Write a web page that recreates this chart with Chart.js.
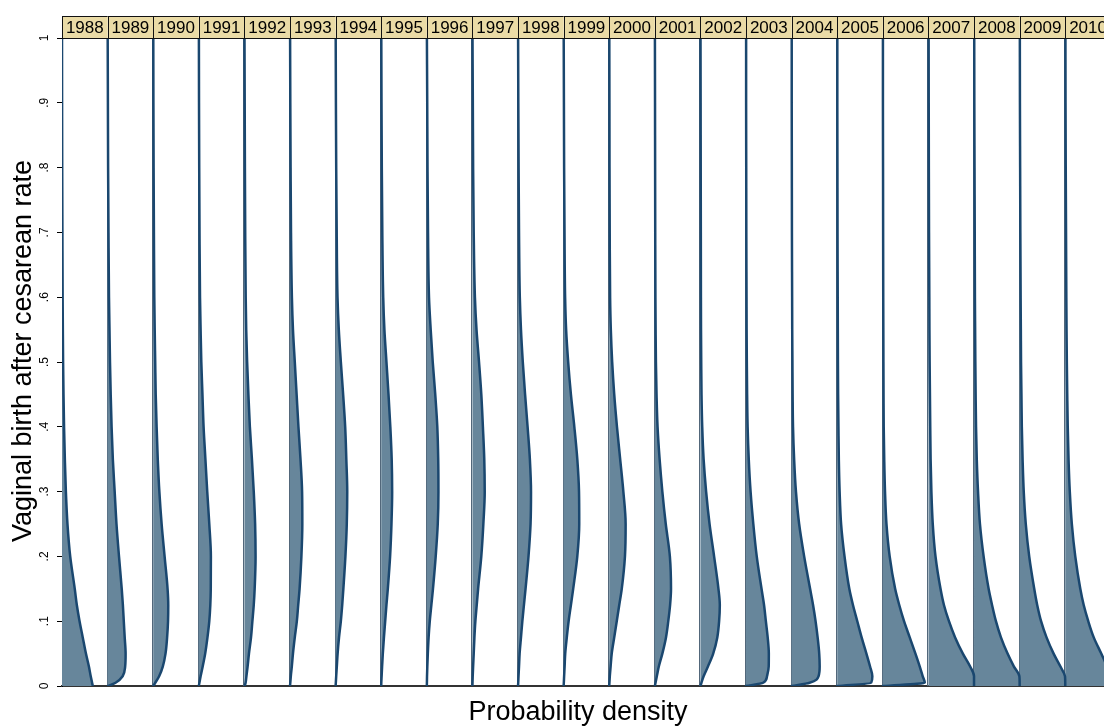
<!DOCTYPE html>
<html>
<head>
<meta charset="utf-8">
<script src="https://cdn.jsdelivr.net/npm/chart.js@4.4.1/dist/chart.umd.min.js"></script>
<style>
html, body { margin: 0; padding: 0; background: #fff; }
#wrap { width: 1104px; height: 727px; }
</style>
</head>
<body>
<div id="wrap"><canvas id="densityChart" width="1104" height="727"></canvas></div>
<script>
// VBAC rate distribution by year, drawn sideways (density on x, rate on y)
// values

const years = [1988, 1989, 1990, 1991, 1992, 1993, 1994, 1995, 1996, 1997, 1998, 1999,
               2000, 2001, 2002, 2003, 2004, 2005, 2006, 2007, 2008, 2009, 2010];

// rate at which each density was read
const rates = [0, 0.005, 0.015, 0.03, 0.05, 0.075, 0.1, 0.125, 0.15, 0.2, 0.25, 0.3,
               0.35, 0.4, 0.45, 0.5, 0.55, 0.6, 0.7, 0.8, 0.9, 1];

const rateTickValues = [0, 0.1, 0.2, 0.3, 0.4, 0.5, 0.6, 0.7, 0.8, 0.9, 1];
const rateTickLabels = ['0', '.1', '.2', '.3', '.4', '.5', '.6', '.7', '.8', '.9', '1'];

const xTitle = 'Probability density';
const yTitle = 'Vaginal birth after cesarean rate';

const dens1988 = [13.5, 13.2, 12.6, 11.8, 10.5, 9.1, 7.7, 6.5, 5.6, 3.6, 2.4, 1.7, 1.25, 0.9, 0.66, 0.48, 0.37, 0.28, 0.18, 0.09, 0.04, 0];
const dens1989 = [0.2, 3.5, 6.6, 7.7, 7.9, 7.5, 7.1, 6.7, 6.2, 5.0, 3.9, 3.1, 2.3, 1.75, 1.36, 1.05, 0.83, 0.61, 0.39, 0.22, 0.13, 0.04];
const dens1990 = [0, 0.9, 2.6, 4.2, 5.4, 6.1, 6.5, 6.6, 6.3, 5.0, 3.7, 2.7, 2.0, 1.5, 1.1, 0.88, 0.66, 0.48, 0.31, 0.18, 0.09, 0.04];
const dens1991 = [0, 0.26, 0.79, 1.7, 2.8, 3.8, 4.6, 5.05, 5.25, 5.3, 4.6, 3.7, 2.9, 2.1, 1.6, 1.1, 0.79, 0.53, 0.31, 0.18, 0.09, 0.04];
const dens1992 = [0.13, 0.53, 0.88, 1.4, 2.0, 2.9, 3.5, 4.1, 4.5, 4.9, 4.7, 4.1, 3.3, 2.4, 1.75, 1.2, 0.79, 0.57, 0.35, 0.22, 0.13, 0.04];
const dens1993 = [0, 0.13, 0.35, 0.79, 1.3, 2.1, 3.0, 3.6, 4.2, 5.0, 5.4, 5.3, 4.6, 3.7, 2.9, 2.1, 1.3, 0.83, 0.44, 0.26, 0.13, 0.04];
const dens1994 = [0, 0.09, 0.26, 0.53, 0.88, 1.5, 2.3, 2.9, 3.4, 4.3, 4.9, 5.1, 4.7, 4.2, 3.3, 2.3, 1.4, 0.83, 0.48, 0.26, 0.13, 0.04];
const dens1995 = [0, 0.04, 0.18, 0.39, 0.7, 1.2, 1.75, 2.3, 2.9, 3.9, 4.5, 4.8, 4.6, 4.0, 3.2, 2.3, 1.4, 0.88, 0.48, 0.26, 0.13, 0.04];
const dens1996 = [0, 0.04, 0.09, 0.22, 0.44, 0.79, 1.3, 2.0, 2.7, 3.9, 4.8, 5.1, 5.0, 4.6, 3.7, 2.6, 1.7, 0.96, 0.53, 0.31, 0.18, 0.04];
const dens1997 = [0, 0.04, 0.13, 0.31, 0.57, 0.88, 1.3, 1.9, 2.5, 3.9, 4.8, 5.4, 5.2, 4.6, 3.9, 2.9, 1.8, 1.1, 0.57, 0.31, 0.18, 0.04];
const dens1998 = [0, 0.09, 0.22, 0.44, 0.7, 1.3, 1.9, 2.6, 3.3, 4.6, 5.5, 5.7, 5.2, 4.2, 3.1, 2.1, 1.3, 0.79, 0.44, 0.26, 0.13, 0.04];
const dens1999 = [0, 0.09, 0.22, 0.44, 0.7, 1.4, 2.2, 3.2, 4.2, 6.0, 6.85, 6.75, 6.0, 4.7, 3.2, 2.0, 1.1, 0.66, 0.39, 0.22, 0.13, 0.04];
const dens2000 = [0, 0.09, 0.26, 0.61, 1.1, 2.2, 3.3, 4.4, 5.5, 6.9, 7.2, 6.2, 4.8, 3.4, 2.2, 1.3, 0.7, 0.39, 0.22, 0.13, 0.09, 0.04];
const dens2001 = [0, 0.31, 0.88, 1.75, 3.3, 4.9, 5.9, 6.7, 7.1, 6.6, 4.8, 3.3, 2.1, 1.2, 0.75, 0.48, 0.35, 0.26, 0.18, 0.13, 0.09, 0.04];
const dens2002 = [0, 0.44, 1.4, 3.3, 5.6, 7.4, 8.2, 8.5, 7.9, 6.0, 4.0, 2.5, 1.4, 0.79, 0.48, 0.35, 0.26, 0.22, 0.18, 0.13, 0.09, 0.04];
const dens2003 = [0, 7.5, 9.2, 9.95, 10.0, 9.5, 8.7, 7.9, 6.8, 4.7, 3.2, 2.0, 1.2, 0.7, 0.48, 0.35, 0.26, 0.22, 0.13, 0.09, 0.04, 0.04];
const dens2004 = [0, 7.9, 11.8, 12.3, 12.1, 11.4, 10.5, 9.4, 8.1, 5.5, 3.3, 1.9, 1.1, 0.61, 0.44, 0.35, 0.26, 0.22, 0.13, 0.09, 0.04, 0.04];
const dens2005 = [0, 14.9, 15.4, 14.4, 12.8, 10.7, 8.8, 6.9, 5.3, 3.2, 1.7, 1.05, 0.7, 0.53, 0.39, 0.31, 0.26, 0.22, 0.13, 0.09, 0.04, 0.04];
const dens2006 = [0, 18.4, 17.5, 16.2, 14.3, 11.8, 9.3, 7.2, 5.4, 3.0, 1.6, 0.96, 0.61, 0.39, 0.31, 0.26, 0.22, 0.18, 0.13, 0.09, 0.04, 0.04];
const dens2007 = [20, 20, 20, 18.3, 15.1, 11.7, 9.0, 6.8, 5.3, 3.1, 1.9, 1.3, 0.96, 0.79, 0.66, 0.53, 0.44, 0.39, 0.26, 0.18, 0.13, 0.09];
const dens2008 = [20, 20, 19.9, 17.5, 14.7, 11.8, 9.6, 7.9, 6.4, 4.2, 2.6, 1.75, 1.2, 0.88, 0.7, 0.57, 0.48, 0.39, 0.31, 0.22, 0.13, 0.09];
const dens2009 = [20, 20, 19.9, 17.9, 14.9, 11.8, 9.4, 7.7, 6.4, 4.2, 2.7, 1.8, 1.3, 0.96, 0.79, 0.61, 0.53, 0.44, 0.31, 0.22, 0.13, 0.09];
const dens2010 = [20, 20, 20, 18.4, 15.8, 12.5, 10.1, 8.1, 6.6, 4.4, 2.9, 2.0, 1.45, 1.1, 0.88, 0.7, 0.57, 0.48, 0.35, 0.22, 0.13, 0.09];

const densities = [dens1988, dens1989, dens1990, dens1991, dens1992, dens1993, dens1994, dens1995,
                   dens1996, dens1997, dens1998, dens1999, dens2000, dens2001, dens2002, dens2003,
                   dens2004, dens2005, dens2006, dens2007, dens2008, dens2009, dens2010];

const PANEL_WIDTH = 20;          // density range covered by one year panel
const VISIBLE_PANELS = 22.85;    // last panel (2010) is cut off at the right edge
const STRIP_HEIGHT = 22;

const navy = '#1a476f';
const areaFill = '#67869b';
const stripFill = '#eadba6';
const fontFamily = '"Liberation Sans", Arial, Helvetica, sans-serif';

Chart.defaults.font.family = fontFamily;
Chart.defaults.color = '#000';

// one dataset per year, shifted into its own panel
const datasets = years.map(function(year, i) {
    const offset = i * PANEL_WIDTH;
    return {
        label: String(year),
        data: rates.map(function(r, k) {
            return { x: offset + densities[i][k], y: r };
        }),
        borderColor: navy,
        borderWidth: 2.5,
        backgroundColor: areaFill,
        fill: { value: offset },
        pointRadius: 0,
        cubicInterpolationMode: 'monotone',
        borderJoinStyle: 'round',
        borderCapStyle: 'round'
    };
});

// thin grey edge on the left side of each panel's shaded area
const panelEdges = {
    id: 'panelEdges',
    beforeDatasetsDraw: function(chart) {
        const ctx = chart.ctx;
        const x = chart.scales.x;
        const area = chart.chartArea;
        ctx.save();
        ctx.strokeStyle = '#52677a';
        ctx.lineWidth = 1;
        for (let i = 1; i < years.length; i++) {
            const px = Math.round(x.getPixelForValue(i * PANEL_WIDTH)) - 0.5;
            ctx.beginPath();
            ctx.moveTo(px, area.top);
            ctx.lineTo(px, area.bottom);
            ctx.stroke();
        }
        ctx.restore();
    }
};

// khaki year strips above the panels
const panelHeaders = {
    id: 'panelHeaders',
    afterDraw: function(chart) {
        const ctx = chart.ctx;
        const x = chart.scales.x;
        const top = chart.chartArea.top;
        const h = STRIP_HEIGHT;
        ctx.save();
        ctx.font = '17px ' + fontFamily;
        ctx.textAlign = 'center';
        ctx.textBaseline = 'middle';
        years.forEach(function(year, i) {
            const x0 = x.getPixelForValue(i * PANEL_WIDTH);
            const x1 = x.getPixelForValue((i + 1) * PANEL_WIDTH);
            ctx.fillStyle = stripFill;
            ctx.fillRect(x0, top - h, x1 - x0, h);
            ctx.strokeStyle = '#111';
            ctx.lineWidth = 1;
            ctx.strokeRect(Math.round(x0) + 0.5, top - h + 0.5, Math.round(x1) - Math.round(x0), h);
            ctx.fillStyle = '#000';
            ctx.fillText(String(year), (x0 + x1) / 2, top - h / 2 + 1);
        });
        ctx.restore();
    }
};

// rotated rate labels next to the y ticks, plus the two axis titles
const axisText = {
    id: 'axisText',
    afterDraw: function(chart) {
        const ctx = chart.ctx;
        const y = chart.scales.y;
        const area = chart.chartArea;
        ctx.save();
        ctx.fillStyle = '#000';
        ctx.font = '12px ' + fontFamily;
        ctx.textAlign = 'center';
        ctx.textBaseline = 'alphabetic';
        rateTickValues.forEach(function(v, k) {
            const py = y.getPixelForValue(v);
            ctx.save();
            ctx.translate(48, py);
            ctx.rotate(-Math.PI / 2);
            ctx.fillText(rateTickLabels[k], 0, 0);
            ctx.restore();
        });

        // titles are centred on the whole panel block, strips included
        ctx.font = '27px ' + fontFamily;
        ctx.textBaseline = 'middle';
        ctx.save();
        ctx.translate(24, (area.top - STRIP_HEIGHT + area.bottom) / 2);
        ctx.rotate(-Math.PI / 2);
        ctx.fillText(yTitle, 0, 0);
        ctx.restore();
        ctx.fillText(xTitle, 578, 713);
        ctx.restore();
    }
};

const ctx = document.getElementById('densityChart');

new Chart(ctx, {
    type: 'line',
    data: { datasets: datasets },
    plugins: [panelEdges, panelHeaders, axisText],
    options: {
        indexAxis: 'y',
        responsive: false,
        animation: false,
        devicePixelRatio: 1,
        layout: { padding: { top: 38, right: 0, bottom: 0, left: 0 } },
        plugins: {
            legend: { display: false },
            tooltip: { enabled: false }
        },
        scales: {
            x: {
                type: 'linear',
                min: 0,
                max: PANEL_WIDTH * VISIBLE_PANELS,
                grid: { display: false, drawTicks: false },
                border: { display: true, color: '#333', width: 2 },
                ticks: { display: false },
                afterFit: function(scale) { scale.height = 41; }
            },
            y: {
                type: 'linear',
                min: 0,
                max: 1,
                afterBuildTicks: function(scale) {
                    scale.ticks = rateTickValues.map(function(v) { return { value: v }; });
                },
                grid: {
                    display: true,
                    drawOnChartArea: false,
                    drawTicks: true,
                    tickLength: 5,
                    tickColor: '#000',
                    tickWidth: 1
                },
                border: { display: true, color: '#000', width: 1 },
                ticks: { display: false },
                afterFit: function(scale) { scale.width = 62; }
            }
        }
    }
});
</script>
</body>
</html>
